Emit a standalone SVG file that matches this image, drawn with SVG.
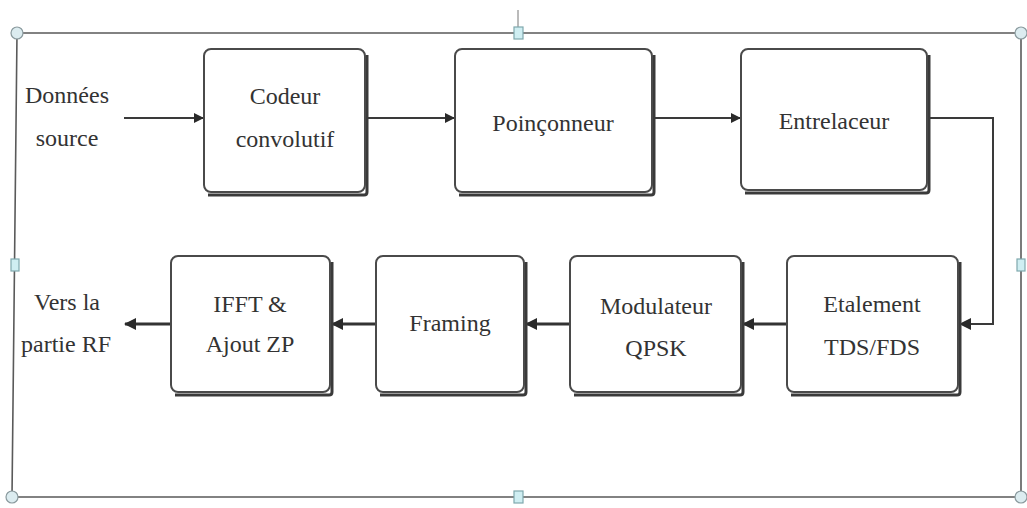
<svg xmlns="http://www.w3.org/2000/svg" width="1027" height="508" viewBox="0 0 1027 508">
<style>
.frame{fill:none;stroke:#5a5a5a;stroke-width:1.6}
.hc{fill:#dcecf0;stroke:#8a9a9e;stroke-width:1.2}
.hs{fill:#cfeef2;stroke:#7fa8ad;stroke-width:1.2}
.box{fill:#fff;stroke:#4a4a4a;stroke-width:2}
.sh{fill:none;stroke:#3a3a3a;stroke-width:3}
.t{font-family:"Liberation Serif","DejaVu Serif",serif;font-size:24px;fill:#333;text-anchor:middle}
.c1{fill:none;stroke:#3a3a3a;stroke-width:2}
.c2{fill:none;stroke:#333;stroke-width:3.2}
</style>
<defs>
<marker id="ah" markerWidth="10" markerHeight="10" refX="9" refY="5" orient="auto" markerUnits="userSpaceOnUse"><path d="M0,0 L10,5 L0,10 Z" fill="#2a2a2a"/></marker>
<marker id="ah2" markerWidth="12" markerHeight="12" refX="11" refY="6" orient="auto" markerUnits="userSpaceOnUse"><path d="M0,0 L12,6 L0,12 Z" fill="#2a2a2a"/></marker>
</defs>
<rect width="1027" height="508" fill="#fff"/>
<g id="selection-frame">
<path class="frame" d="M17,33 L1021,33 L1021,497 L12,497 Z"/>
<line x1="518" y1="10" x2="518" y2="27" stroke="#777" stroke-width="1"/>
<circle class="hc" cx="17" cy="33" r="6"/>
<circle class="hc" cx="1021" cy="33" r="6"/>
<circle class="hc" cx="12" cy="497" r="6"/>
<circle class="hc" cx="1021" cy="497" r="6"/>
<rect class="hs" x="514" y="27" width="9" height="12"/>
<rect class="hs" x="514" y="491" width="9" height="12"/>
<rect class="hs" x="11" y="259" width="8" height="12"/>
<rect class="hs" x="1017" y="259" width="8" height="12"/>
</g>
<g id="connectors">
<line class="c1" x1="124" y1="118" x2="203" y2="118" marker-end="url(#ah)"/>
<line class="c1" x1="366" y1="118" x2="454" y2="118" marker-end="url(#ah)"/>
<line class="c1" x1="653" y1="118" x2="740" y2="118" marker-end="url(#ah)"/>
<polyline class="c1" points="928,118 993,118 993,324 960,324" marker-end="url(#ah2)"/>
<line class="c2" x1="787" y1="324" x2="743" y2="324" marker-end="url(#ah2)"/>
<line class="c2" x1="570" y1="324" x2="526" y2="324" marker-end="url(#ah2)"/>
<line class="c2" x1="376" y1="324" x2="332" y2="324" marker-end="url(#ah2)"/>
<line class="c2" x1="171" y1="324" x2="125" y2="324" marker-end="url(#ah2)"/>
</g>
<g id="donnees-source">
<text class="t" x="67" y="103">Données</text>
<text class="t" x="67" y="146">source</text>
</g>
<g id="codeur">
<path class="sh" d="M367,55 L367,192 Q367,195 364,195 L208,195"/>
<rect class="box" x="204" y="49" width="161" height="143" rx="7"/>
<text class="t" x="285" y="104">Codeur</text>
<text class="t" x="285" y="147">convolutif</text>
</g>
<g id="poinconneur">
<path class="sh" d="M654,55 L654,192 Q654,195 651,195 L459,195"/>
<rect class="box" x="455" y="49" width="197" height="143" rx="7"/>
<text class="t" x="553" y="131">Poinçonneur</text>
</g>
<g id="entrelaceur">
<path class="sh" d="M929,55 L929,190 Q929,193 926,193 L745,193"/>
<rect class="box" x="741" y="49" width="186" height="141" rx="7"/>
<text class="t" x="834" y="129">Entrelaceur</text>
</g>
<g id="etalement">
<path class="sh" d="M960,262 L960,392 Q960,395 957,395 L791,395"/>
<rect class="box" x="787" y="256" width="171" height="136" rx="7"/>
<text class="t" x="872" y="312">Etalement</text>
<text class="t" x="872" y="355">TDS/FDS</text>
</g>
<g id="modulateur">
<path class="sh" d="M743,262 L743,392 Q743,395 740,395 L574,395"/>
<rect class="box" x="570" y="256" width="171" height="136" rx="7"/>
<text class="t" x="656" y="314">Modulateur</text>
<text class="t" x="656" y="356">QPSK</text>
</g>
<g id="framing">
<path class="sh" d="M526,262 L526,392 Q526,395 523,395 L380,395"/>
<rect class="box" x="376" y="256" width="148" height="136" rx="7"/>
<text class="t" x="450" y="331">Framing</text>
</g>
<g id="ifft">
<path class="sh" d="M332,262 L332,392 Q332,395 329,395 L175,395"/>
<rect class="box" x="171" y="256" width="159" height="136" rx="7"/>
<text class="t" x="250" y="312">IFFT &amp;</text>
<text class="t" x="250" y="352">Ajout ZP</text>
</g>
<g id="vers-rf">
<text class="t" x="67" y="310">Vers la</text>
<text class="t" x="66" y="352">partie RF</text>
</g>
</svg>
